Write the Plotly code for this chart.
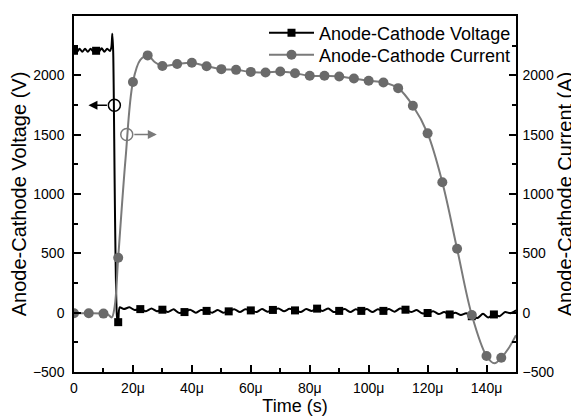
import plotly.graph_objects as go

# ---------------- data ----------------
# time in microseconds
volt_t = [0, 0.94, 1.88, 2.81, 3.75, 4.69, 5.63, 6.56, 7.5, 8.44, 9.38, 10.31, 11.25, 12.19,
          12.7, 13.0, 13.3, 14.6, 15.0, 15.5, 16.9, 18.8, 20.6, 22.5, 24.4, 26.3, 28.1, 30.0,
          31.9, 33.8, 35.6, 37.5, 39.4, 41.3, 43.1, 45.0, 46.9, 48.8, 50.6, 52.5, 54.4, 56.3,
          58.1, 60.0, 61.9, 63.8, 65.6, 67.5, 69.4, 71.3, 73.1, 75.0, 76.9, 78.8, 80.6, 82.5,
          84.4, 86.3, 88.1, 90.0, 91.9, 93.8, 95.6, 97.5, 99.4, 101.3, 103.1, 105.0, 106.9,
          108.8, 110.6, 112.5, 114.4, 116.3, 118.1, 120.0, 121.9, 123.8, 125.6, 127.5, 129.4,
          131.3, 133.1, 135.0, 136.9, 138.8, 140.6, 142.5, 144.4, 146.3, 148.1, 150.0]
volt_v = [2207, 2195, 2225, 2198, 2225, 2198, 2225, 2200, 2207, 2200, 2228, 2198, 2225, 2205,
          2240, 2350, 2200, -40, -80, 45, 30, 45, 22, 30, 12, 35, 12, 25,
          5, 28, -2, 5, 25, 0, 22, 15, 0, 22, 0, 11, 28, 5,
          28, 19, 5, 30, 8, 23, 35, 12, 32, 19, 5, 30, 15, 34,
          15, 35, 5, 15, 30, 5, 28, 15, 30, 5, 28, 15, 30,
          8, 35, 25, 5, 22, -5, -3, 12, -12, 5, -15, 0,
          -20, -5, -30, -45, -10, -40, -15, -30, 5, -5, 20]

volt_mark_t = [0, 7.5, 15, 22.5, 30, 37.5, 45, 52.5, 60, 67.5, 75, 82.5, 90, 97.5,
               105, 112.5, 120, 127.5, 135, 142.5]
volt_mark_v = [2207, 2207, -80, 30, 25, 5, 15, 11, 19, 23, 19, 34, 15, 15,
               15, 25, -3, -15, -30, -15]

curr_t = [0, 5, 10, 11.5, 12.8, 13.8, 15, 17.5, 20, 22.5, 25, 27.5, 30, 35, 40, 45, 50, 55,
          60, 65, 70, 75, 80, 85, 90, 95, 100, 105, 110, 115, 120, 125, 130, 135, 140, 142.7,
          145, 147.5, 150]
curr_v = [-5, -5, -8, -15, -40, 50, 463, 1300, 1944, 2130, 2168, 2110, 2078, 2095, 2106, 2076,
          2052, 2046, 2029, 2024, 2032, 2018, 1996, 1996, 1990, 1973, 1954, 1940, 1892, 1744,
          1511, 1099, 539, -20, -365, -427, -380, -300, -190]

curr_mark_t = [0, 5, 10, 15, 20, 25, 30, 35, 40, 45, 50, 55, 60, 65, 70, 75, 80, 85, 90, 95,
               100, 105, 110, 115, 120, 125, 130, 135, 140, 145]
curr_mark_v = [-5, -5, -8, 463, 1944, 2168, 2078, 2095, 2106, 2076, 2052, 2046, 2029, 2024,
               2032, 2018, 1996, 1996, 1990, 1973, 1954, 1940, 1892, 1744, 1511, 1099, 539,
               -20, -365, -380]

x_tickvals = [0, 20, 40, 60, 80, 100, 120, 140]
x_ticktext = ["0", "20μ", "40μ", "60μ", "80μ", "100μ", "120μ", "140μ"]
y_tickvals = [-500, 0, 500, 1000, 1500, 2000, 2500]

series_names = ["Anode-Cathode Voltage", "Anode-Cathode Current"]

BLACK = "#000000"
GRAY_LINE = "#7a7a7a"
GRAY_MARK = "#6a6a6a"
FONT = "Liberation Sans, Arial, sans-serif"

fig = go.Figure()

# current (right axis)
fig.add_trace(go.Scatter(x=curr_t, y=curr_v, mode="lines", yaxis="y2",
                         line=dict(color=GRAY_LINE, width=2, shape="spline", smoothing=1.0),
                         showlegend=False, hoverinfo="skip"))
fig.add_trace(go.Scatter(x=curr_mark_t, y=curr_mark_v, mode="markers", yaxis="y2",
                         marker=dict(symbol="circle", size=10, color=GRAY_MARK),
                         showlegend=False))
# voltage (left axis)
fig.add_trace(go.Scatter(x=volt_t, y=volt_v, mode="lines", yaxis="y",
                         line=dict(color=BLACK, width=2, shape="spline", smoothing=0.7),
                         showlegend=False, hoverinfo="skip"))
fig.add_trace(go.Scatter(x=volt_mark_t, y=volt_mark_v, mode="markers", yaxis="y",
                         marker=dict(symbol="square", size=8, color=BLACK),
                         showlegend=False))

# legend entries (two independent legends so that row spacing can be matched)
fig.add_trace(go.Scatter(x=[None], y=[None], mode="lines+markers", name=series_names[0],
                         legend="legend",
                         line=dict(color=BLACK, width=2),
                         marker=dict(symbol="square", size=8, color=BLACK)))
fig.add_trace(go.Scatter(x=[None], y=[None], mode="lines+markers", name=series_names[1],
                         legend="legend2",
                         line=dict(color=GRAY_LINE, width=2),
                         marker=dict(symbol="circle", size=10, color=GRAY_MARK)))

# circle markers indicating axes + arrows
fig.add_shape(type="circle", xref="x", yref="y", xsizemode="pixel", ysizemode="pixel",
              xanchor=13.7, yanchor=1748, x0=-6, x1=6, y0=-6, y1=6,
              line=dict(color=BLACK, width=1.5), fillcolor="rgba(0,0,0,0)")
fig.add_shape(type="circle", xref="x", yref="y", xsizemode="pixel", ysizemode="pixel",
              xanchor=17.9, yanchor=1502, x0=-6, x1=6, y0=-6, y1=6,
              line=dict(color=GRAY_LINE, width=1.5), fillcolor="rgba(0,0,0,0)")
fig.add_annotation(x=4.9, y=1748, xref="x", yref="y", ax=20, ay=0, text="",
                   showarrow=True, arrowhead=2, arrowsize=1.2,
                   arrowwidth=1.5, arrowcolor=BLACK)
fig.add_annotation(x=28.1, y=1502, xref="x", yref="y", ax=-24, ay=0, text="",
                   showarrow=True, arrowhead=2, arrowsize=1.2, arrowwidth=1.5,
                   arrowcolor=GRAY_LINE)

axis_common = dict(showgrid=False, zeroline=False, linecolor=BLACK, linewidth=1.5,
                   ticks="inside", ticklen=7, tickwidth=1.5, tickcolor=BLACK,
                   automargin=False,
                   tickfont=dict(family=FONT, size=14, color=BLACK))

legend_common = dict(xanchor="right", yanchor="middle", bgcolor="rgba(0,0,0,0)",
                     font=dict(family=FONT, size=18, color=BLACK), itemwidth=45,
                     borderwidth=0)

# the page body adds an 8 px offset, so the figure is sized to fit the window
fig.update_layout(
    width=571, height=412,
    margin=dict(l=66, r=63, t=7, b=48),
    paper_bgcolor="white", plot_bgcolor="white",
    font=dict(family=FONT, color=BLACK),
    xaxis=dict(range=[0, 150], tickvals=x_tickvals, ticktext=x_ticktext,
               title=dict(text="Time (s)", font=dict(family=FONT, size=18), standoff=2),
               mirror=True, ticklabelstandoff=2,
               minor=dict(dtick=10, ticks="inside", ticklen=4, tickwidth=1.5, tickcolor=BLACK),
               **axis_common),
    yaxis=dict(range=[-500, 2500], tickvals=y_tickvals, ticklabelstandoff=5,
               title=dict(text="Anode-Cathode Voltage (V)", font=dict(family=FONT, size=20),
                          standoff=4),
               minor=dict(dtick=250, tick0=0, ticks="inside", ticklen=4, tickwidth=1.5,
                          tickcolor=BLACK),
               **axis_common),
    yaxis2=dict(range=[-500, 2500], tickvals=y_tickvals, overlaying="y", side="right",
                ticklabelstandoff=2,
                title=dict(text="Anode-Cathode Current (A)", font=dict(family=FONT, size=20),
                           standoff=2),
                minor=dict(dtick=250, tick0=0, ticks="inside", ticklen=4, tickwidth=1.5,
                           tickcolor=BLACK),
                **axis_common),
    legend=dict(x=1.0, y=0.9496, **legend_common),
    legend2=dict(x=1.0, y=0.888, **legend_common),
)

fig.write_html("out.html")
